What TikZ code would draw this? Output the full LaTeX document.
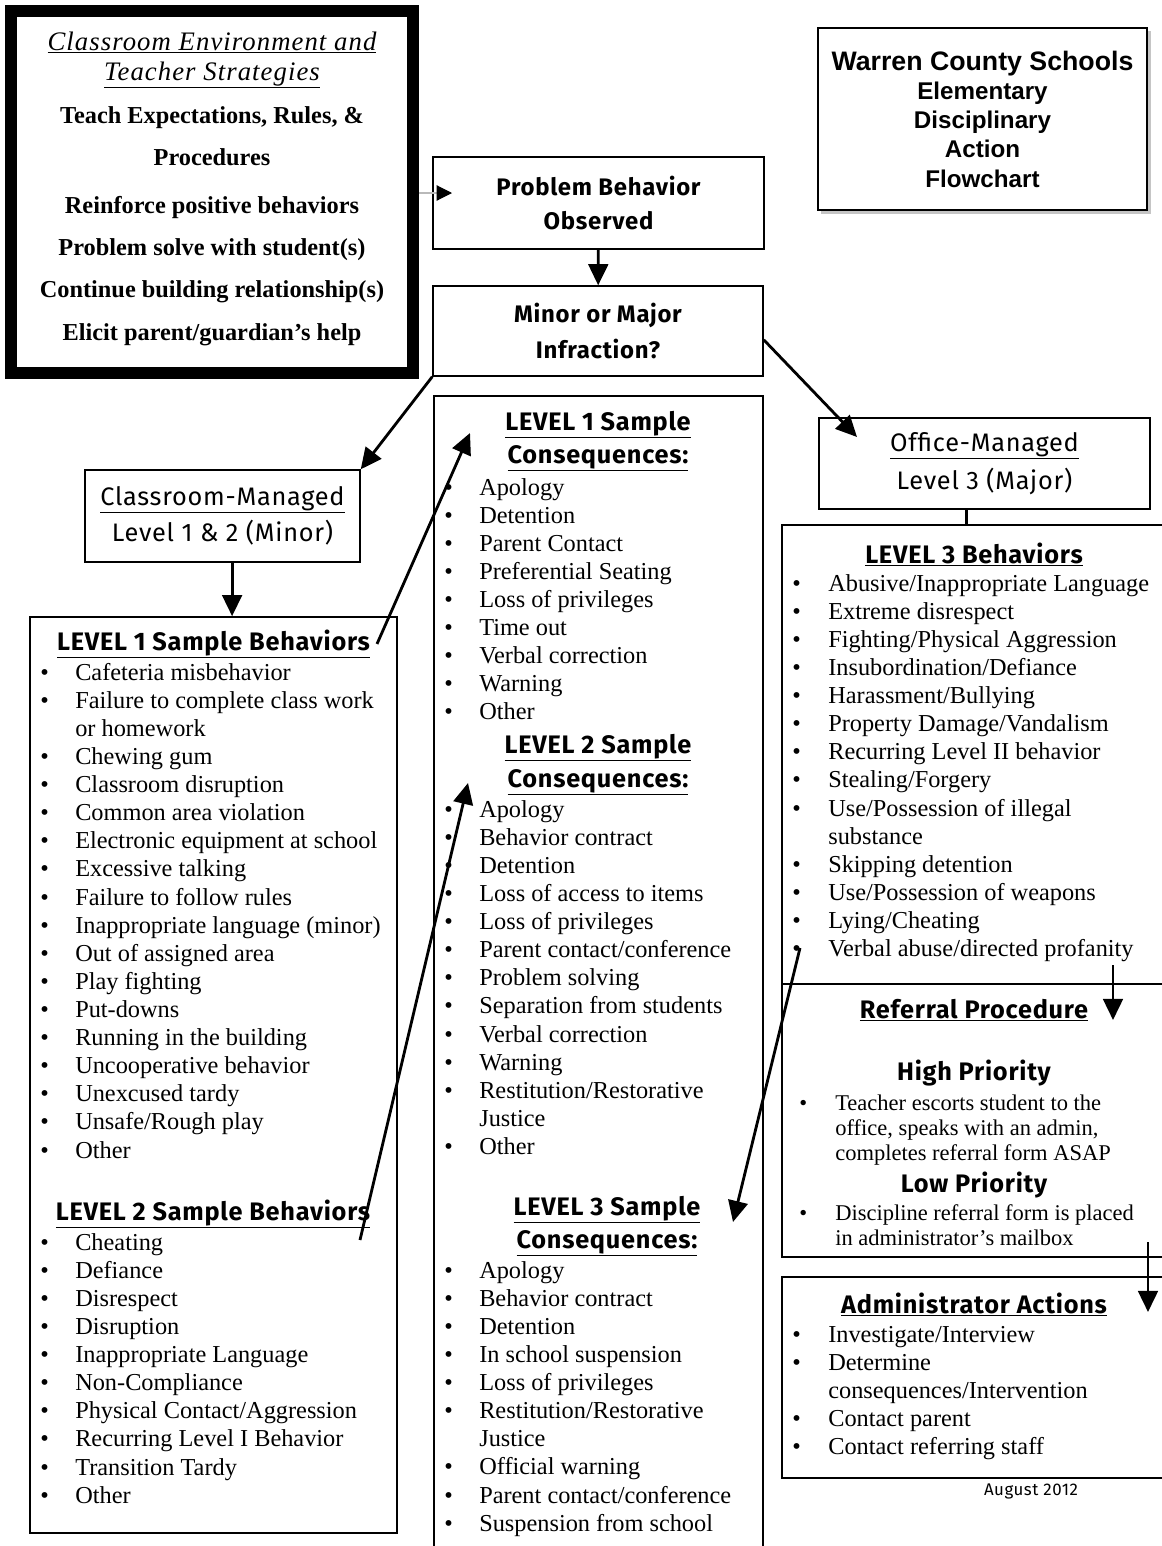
\documentclass[tikz,border=0pt]{standalone}
\usepackage{fontspec}
\setmainfont{Liberation Serif}
\newfontfamily\hand[LetterSpace=3]{Fira Sans}
\newfontfamily\arial{Liberation Sans}
\newfontfamily\fancy[LetterSpace=4]{Liberation Serif}
\usetikzlibrary{arrows.meta,shadows}

\newcommand{\blt}{\textbullet}

\begin{document}
\begin{tikzpicture}[x=0.025cm,y=-0.025cm,
box/.style={draw,rectangle,line width=1pt,inner sep=0pt,align=center},
arr/.style={line width=2pt,-{Triangle[length=15pt,width=14pt]}},
hd/.style={font=\hand\bfseries\fontsize{18}{20}\selectfont,anchor=base,inner sep=0pt},
tips/.style={font=\bfseries\fontsize{17.3}{20}\selectfont,anchor=base,inner sep=0pt},
lst/.style={font=\fontsize{17.3}{20}\selectfont,anchor=base west,inner sep=0pt},
small/.style={font=\fontsize{16}{17.8}\selectfont,anchor=base west,inner sep=0pt}]
\fill[white] (0,0) rectangle (1162,1546);
\useasboundingbox (0,0) rectangle (1162,1546);
%================================================================
%	Boxes
\node[box,line width=8.5pt,minimum width=10.04cm,minimum height=9.04cm] (strat) at (212.25,191.75) {};
\node[box,line width=1.4pt,fill=white,drop shadow={shadow xshift=2.5pt,shadow yshift=-2.5pt,opacity=.45},
  minimum width=8.225cm,minimum height=4.55cm,font=\arial\bfseries\fontsize{17.2}{20.8}\selectfont] (warren) at (982.5,119)
  {{\fontsize{19}{21}\selectfont Warren County Schools}\\Elementary\\Disciplinary\\Action\\Flowchart};
\node[box,minimum width=8.275cm,minimum height=2.3cm,font=\hand\bfseries\fontsize{17}{24}\selectfont] (prob) at (598.5,203) {Problem Behavior\\Observed};
\node[box,minimum width=8.25cm,minimum height=2.25cm,font=\hand\bfseries\fontsize{17}{25}\selectfont] (minmaj) at (598,331) {Minor or Major\\Infraction?};
\node[box,minimum width=6.875cm,minimum height=2.3cm,font=\hand\fontsize{18}{26}\selectfont] (clsm) at (222.5,516) {\underline{Classroom-Managed}\\Level 1 \& 2 (Minor)};
\node[box,minimum width=8.275cm,minimum height=2.275cm,font=\hand\fontsize{18}{27}\selectfont] (offm) at (984.5,463.5) {\underline{Office-Managed}\\Level 3 (Major)};
%----------------------------------------------------------------
\node[box,minimum width=9.175cm,minimum height=22.9cm] (lvl1b) at (213.5,1075) {};
\node[box,minimum width=8.225cm,minimum height=29.1cm] (cons) at (598.5,978) {};
\node[box,minimum width=9.6cm,minimum height=11.475cm] (lvl3b) at (974,754.5) {};
\node[box,minimum width=9.6cm,minimum height=6.825cm] (refp) at (974,1120.5) {};
\node[box,minimum width=9.6cm,minimum height=5.025cm] (admin) at (974,1377.5) {};

%================================================================
%	Teacher strategies
\node[tips,font=\fancy\itshape\fontsize{19}{24}\selectfont] (t0) at (212,50) {\underline{Classroom Environment and}};
\node[tips,font=\fancy\itshape\fontsize{19}{24}\selectfont] (t1) at (212,80) {\underline{Teacher Strategies}};
\node[tips] (t2) at (212,123) {Teach Expectations, Rules, \&};
\node[tips] (t3) at (212,165) {Procedures};
\node[tips] (t4) at (212,213) {Reinforce positive behaviors};
\node[tips] (t5) at (212,255) {Problem solve with student(s)};
\node[tips] (t6) at (212,297) {Continue building relationship(s)};
\node[tips] (t7) at (212,340) {Elicit parent/guardian's help};

%================================================================
%	Behaviors (left)
\node[hd] (hl1b) at (213.5,650) {\underline{LEVEL 1 Sample Behaviors}};
\node[lst] (l1b) at (40,680) {\begin{tabular}[t]{@{}p{0.875cm}@{}l@{}}
\blt & Cafeteria misbehavior\\
\blt & Failure to complete class work\\
     & or homework\\
\blt & Chewing gum\\
\blt & Classroom disruption\\
\blt & Common area violation\\
\blt & Electronic equipment at school\\
\blt & Excessive talking\\
\blt & Failure to follow rules\\
\blt & Inappropriate language (minor)\\
\blt & Out of assigned area\\
\blt & Play fighting\\
\blt & Put-downs\\
\blt & Running in the building\\
\blt & Uncooperative behavior\\
\blt & Unexcused tardy\\
\blt & Unsafe/Rough play\\
\blt & Other
\end{tabular}};
%----------------------------------------------------------------
\node[hd] (hl2b) at (213,1220) {\underline{LEVEL 2 Sample Behaviors}};
\node[lst] (l2b) at (40,1250) {\begin{tabular}[t]{@{}p{0.875cm}@{}l@{}}
\blt & Cheating\\
\blt & Defiance\\
\blt & Disrespect\\
\blt & Disruption\\
\blt & Inappropriate Language\\
\blt & Non-Compliance\\
\blt & Physical Contact/Aggression\\
\blt & Recurring Level I Behavior\\
\blt & Transition Tardy\\
\blt & Other
\end{tabular}};

%================================================================
%	Consequences (middle)
\node[hd] (hc1a) at (598,430) {\underline{LEVEL 1 Sample}};
\node[hd] (hc1b) at (598,463) {\underline{Consequences:}};
\node[lst] (c1l) at (444,495) {\begin{tabular}[t]{@{}p{0.875cm}@{}l@{}}
\blt & Apology\\
\blt & Detention\\
\blt & Parent Contact\\
\blt & Preferential Seating\\
\blt & Loss of privileges\\
\blt & Time out\\
\blt & Verbal correction\\
\blt & Warning\\
\blt & Other
\end{tabular}};
%----------------------------------------------------------------
\node[hd] (hc2a) at (598,753) {\underline{LEVEL 2 Sample}};
\node[hd] (hc2b) at (598,787) {\underline{Consequences:}};
\node[lst] (c2l) at (444,817) {\begin{tabular}[t]{@{}p{0.875cm}@{}l@{}}
\blt & Apology\\
\blt & Behavior contract\\
\blt & Detention\\
\blt & Loss of access to items\\
\blt & Loss of privileges\\
\blt & Parent contact/conference\\
\blt & Problem solving\\
\blt & Separation from students\\
\blt & Verbal correction\\
\blt & Warning\\
\blt & Restitution/Restorative\\
     & Justice\\
\blt & Other
\end{tabular}};
%----------------------------------------------------------------
\node[hd] (hc3a) at (607,1215) {\underline{LEVEL 3 Sample}};
\node[hd] (hc3b) at (607,1248) {\underline{Consequences:}};
\node[lst] (c3l) at (444,1278) {\begin{tabular}[t]{@{}p{0.875cm}@{}l@{}}
\blt & Apology\\
\blt & Behavior contract\\
\blt & Detention\\
\blt & In school suspension\\
\blt & Loss of privileges\\
\blt & Restitution/Restorative\\
     & Justice\\
\blt & Official warning\\
\blt & Parent contact/conference\\
\blt & Suspension from school
\end{tabular}};

%================================================================
%	Office side (right)
\node[hd] (hl3) at (974,563) {\underline{LEVEL 3 Behaviors}};
\node[lst] (l3l) at (792,591) {\begin{tabular}[t]{@{}p{0.9cm}@{}l@{}}
\blt & Abusive/Inappropriate Language\\
\blt & Extreme disrespect\\
\blt & Fighting/Physical Aggression\\
\blt & Insubordination/Defiance\\
\blt & Harassment/Bullying\\
\blt & Property Damage/Vandalism\\
\blt & Recurring Level II behavior\\
\blt & Stealing/Forgery\\
\blt & Use/Possession of illegal\\
     & substance\\
\blt & Skipping detention\\
\blt & Use/Possession of weapons\\
\blt & Lying/Cheating\\
\blt & Verbal abuse/directed profanity
\end{tabular}};
%----------------------------------------------------------------
\node[hd] (hrp) at (974,1018) {\underline{Referral Procedure}};
\node[hd] (hhp) at (974,1080) {High Priority};
\node[small] (rh) at (799,1110) {\begin{tabular}[t]{@{}p{0.9cm}@{}l@{}}
\blt & Teacher escorts student to the\\
     & office, speaks with an admin,\\
     & completes referral form ASAP
\end{tabular}};
\node[hd] (hlp) at (974,1192) {Low Priority};
\node[small] (rl) at (799,1220) {\begin{tabular}[t]{@{}p{0.9cm}@{}l@{}}
\blt & Discipline referral form is placed\\
     & in administrator's mailbox
\end{tabular}};
%----------------------------------------------------------------
\node[hd] (hadm) at (974,1313) {\underline{Administrator Actions}};
\node[lst] (al) at (792,1342) {\begin{tabular}[t]{@{}p{0.9cm}@{}l@{}}
\blt & Investigate/Interview\\
\blt & Determine\\
     & consequences/Intervention\\
\blt & Contact parent\\
\blt & Contact referring staff
\end{tabular}};
\node[anchor=base,inner sep=0pt,font=\hand\fontsize{12}{14}\selectfont] (aug) at (1031,1495) {August 2012};

%================================================================
%	Arrows
\coordinate (ptip) at (452,193);
\coordinate (otip) at (857,437);
\coordinate (t1tip) at (470,433);
\coordinate (s2) at (360,1240);
\coordinate (t2tip) at (468,783);
\coordinate (s3) at (800,948);
\coordinate (t3tip) at (733,1222);
\coordinate (r1) at (1113,965);
\coordinate (r2) at (1113,1020);
\coordinate (a1) at (1148,1242);
\coordinate (a2) at (1148,1312);
%----------------------------------------------------------------
\draw[line width=0.8pt,gray!55,-{Triangle[length=11pt,width=11pt,black]}] (strat.east |- ptip) -- (ptip);
\draw[arr] (prob) -- (minmaj);
\draw[arr] (minmaj.south west) -- (clsm.north east);
\draw[arr] ([yshift=-0.22cm]minmaj.east) -- (otip);
\draw[arr] ([xshift=0.24cm]clsm.south) -- ([xshift=0.24cm]clsm.south |- lvl1b.north);
\draw[line width=2pt] ([xshift=-0.46cm]offm.south) -- ([xshift=-0.46cm]offm.south |- lvl3b.north);
%----------------------------------------------------------------
\draw[arr] ([xshift=0.17cm]hl1b.east) -- (t1tip);
\draw[arr] (s2) -- (t2tip);
\draw[arr] (s3) -- (t3tip);
\draw[arr] (r1) -- (r2);
\draw[arr] (a1) -- (a2);
%================================================================
\end{tikzpicture}
\end{document}
